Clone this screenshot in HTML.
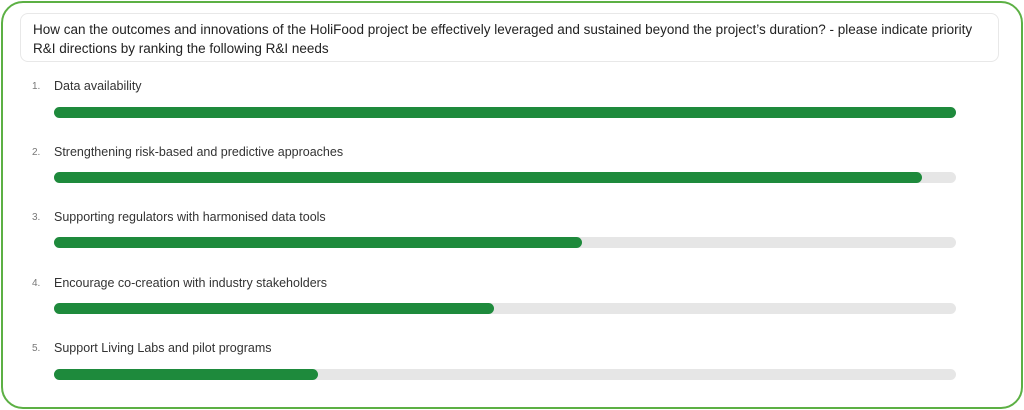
<!DOCTYPE html>
<html><head><meta charset="utf-8"><style>
html,body{margin:0;padding:0;background:#fff;}
body{width:1024px;height:410px;position:relative;overflow:hidden;font-family:"Liberation Sans",sans-serif;}
.outer{position:absolute;left:1px;top:1px;width:1018px;height:404px;border:2px solid #5cb044;border-radius:22px;}
.q{position:absolute;left:20px;top:13px;width:979px;height:49px;border:1px solid #e8e8e8;border-radius:8px;box-sizing:border-box;padding:6px 12px;font-size:13.5px;line-height:19px;color:#222;white-space:nowrap;}
.n{position:absolute;left:32px;font-size:10px;color:#777;}
.l{position:absolute;left:54px;font-size:12.5px;color:#333;}
.t{position:absolute;left:54px;width:902px;height:11px;background:#e6e6e6;border-radius:6px;}
.f{height:11px;background:#1e8a3c;border-radius:6px;}
</style></head><body>
<div class="outer"></div>
<div class="q">How can the outcomes and innovations of the HoliFood project be effectively leveraged and sustained beyond the project’s duration? - please indicate priority<br>R&amp;I directions by ranking the following R&amp;I needs</div>

<div class="n" style="top:81px">1.</div><div class="l" style="top:79px">Data availability</div>
<div class="t" style="top:107px"><div class="f" style="width:902px"></div></div>

<div class="n" style="top:147px">2.</div><div class="l" style="top:145px">Strengthening risk-based and predictive approaches</div>
<div class="t" style="top:172px"><div class="f" style="width:868px"></div></div>

<div class="n" style="top:212px">3.</div><div class="l" style="top:210px">Supporting regulators with harmonised data tools</div>
<div class="t" style="top:237px"><div class="f" style="width:528px"></div></div>

<div class="n" style="top:278px">4.</div><div class="l" style="top:276px">Encourage co-creation with industry stakeholders</div>
<div class="t" style="top:303px"><div class="f" style="width:440px"></div></div>

<div class="n" style="top:343px">5.</div><div class="l" style="top:341px">Support Living Labs and pilot programs</div>
<div class="t" style="top:369px"><div class="f" style="width:264px"></div></div>
</body></html>
